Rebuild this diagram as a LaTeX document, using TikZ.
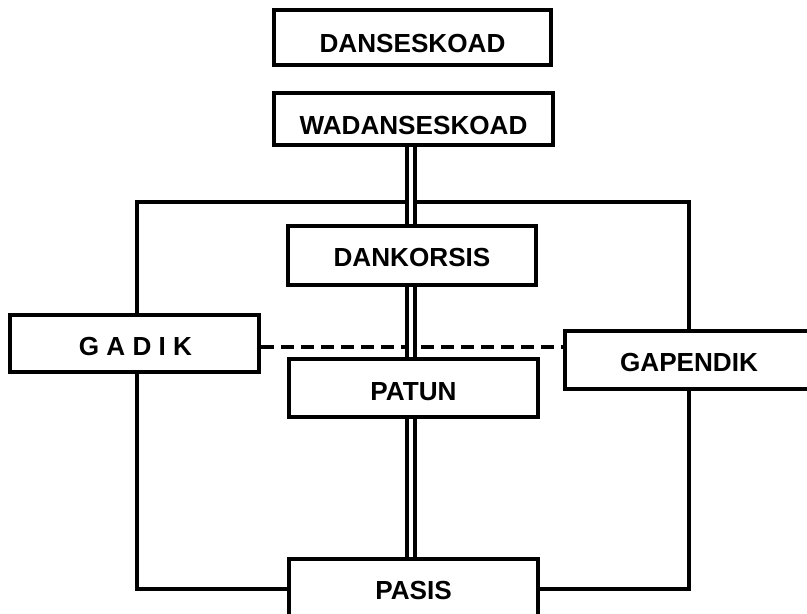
\documentclass[tikz,border=0pt]{standalone}
\usepackage{fontspec}
\setmainfont{Liberation Sans}
\def\pxu{0.3mm}
\begin{document}
\begin{tikzpicture}[x=0.3mm,y=-0.3mm,
  ln/.style={line width=1.2mm, line join=miter},
  box/.style={ln, draw=black, fill=white, rectangle, inner sep=0pt},
  lbl/.style={inner sep=0pt, text height=16pt, text depth=0pt,
    font=\fontsize{22.3}{26}\selectfont\bfseries},
  dashline/.style={ln, dash pattern=on 3.9mm off 2.1mm},
  dbl/.style={line width=1.2mm, double=white, double distance=3.7*\pxu, draw=black}]
\useasboundingbox (0,0) rectangle (807,613);
\clip (0,0) rectangle (807,613);
% outer frame
\draw[ln] (137,201.5) rectangle (689,589);
% boxes
\node[box, minimum width=277*\pxu, minimum height=55*\pxu] (dan) at (412.5,37.5) {};
\node[box, minimum width=279*\pxu, minimum height=52.5*\pxu] (wadan) at (413.5,118.75) {};
\node[box, minimum width=248*\pxu, minimum height=59*\pxu] (dankor) at (412,255.5) {};
\node[box, minimum width=249*\pxu, minimum height=57*\pxu] (gadik) at (134.5,343.5) {};
\node[box, minimum width=248*\pxu, minimum height=58*\pxu] (gapendik) at (689,360) {};
\node[box, minimum width=249*\pxu, minimum height=58*\pxu] (patun) at (413.5,388) {};
\node[box, minimum width=249*\pxu, minimum height=80*\pxu] (pasis) at (413.5,598.5) {};
% labels
\node[lbl] (dant) at (412.5,43.5) {DANSESKOAD};
\node[lbl] (wadant) at (413.5,125) {WADANSESKOAD};
\node[lbl] (dankort) at (412,257.5) {DANKORSIS};
\node[lbl] (gadikt) at (135.5,346.5) {G A D I K};
\node[lbl] (gapendikt) at (689,362) {GAPENDIK};
\node[lbl] (patunt) at (413.5,391) {PATUN};
\node[lbl] (pasist) at (413.5,590) {PASIS};
% connectors
\draw[dashline] (gadik.east |- 0,347) -- (gapendik.west |- 0,347);
\draw[dbl] (411,0 |- wadan.south) -- (411,0 |- dankor.north);
\draw[dbl] (411,0 |- dankor.south) -- (411,0 |- patun.north);
\draw[dbl] (411,0 |- patun.south) -- (411,0 |- pasis.north);
\end{tikzpicture}
\end{document}
